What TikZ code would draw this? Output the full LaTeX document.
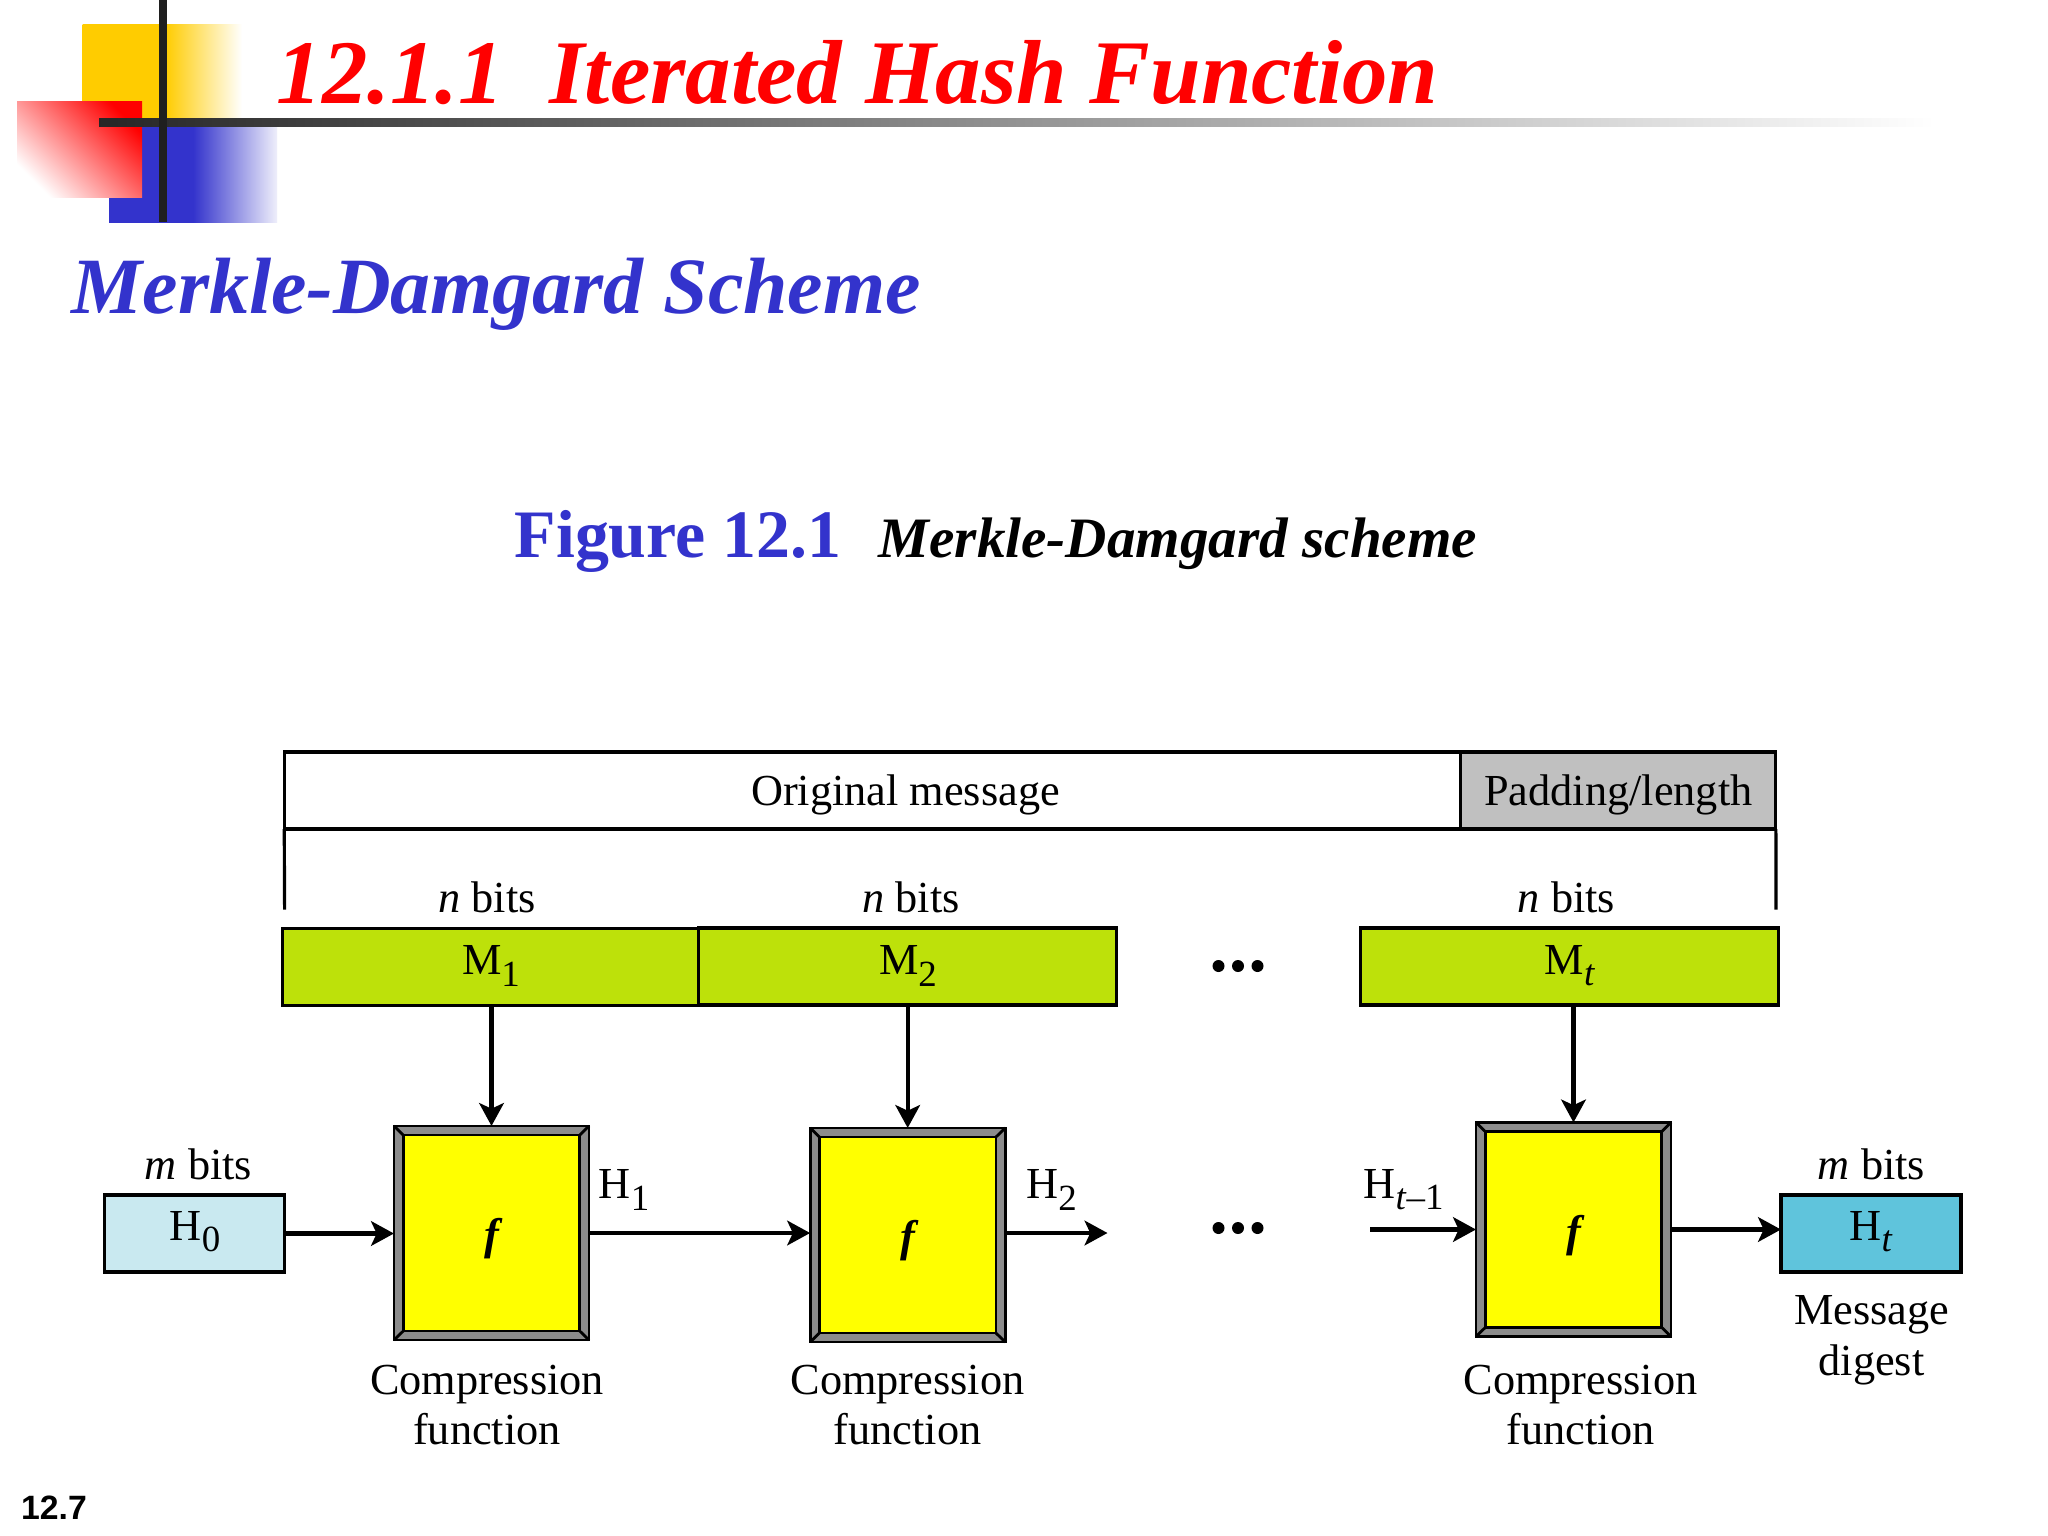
\documentclass[tikz,border=0pt]{standalone}
\usepackage{fontspec}
\setmainfont{Liberation Serif}
\newfontfamily\numfont{Liberation Sans}
\usetikzlibrary{arrows.meta}
\def\lowsub#1{\raisebox{-0.55ex}{\fontsize{10.5}{12}\selectfont #1}}
\definecolor{titlered}{HTML}{FF0000}
\definecolor{slideblue}{HTML}{3333CC}
\definecolor{slideyellow}{HTML}{FFCC00}
\definecolor{blockgreen}{HTML}{BDE10A}
\definecolor{padgray}{HTML}{C0C0C0}
\definecolor{framegray}{HTML}{8C8C8C}
\definecolor{coreyellow}{HTML}{FFFF00}
\definecolor{startblue}{HTML}{C9E9F0}
\definecolor{endblue}{HTML}{5FC4DC}
\pgfdeclarehorizontalshading{yellowfade}{100bp}{color(0bp)=(slideyellow); color(51bp)=(slideyellow); color(75bp)=(white); color(100bp)=(white)}
\pgfdeclarehorizontalshading{bluefade}{100bp}{color(0bp)=(slideblue); color(50bp)=(slideblue); color(75bp)=(slideblue!8); color(100bp)=(slideblue!8)}
\tikzset{
	plainbox/.style={draw=black, line width=0.9pt, inner sep=0pt, outer sep=0pt, minimum height=7.7mm},
	block/.style={plainbox, fill=blockgreen, minimum width=41.7mm},
	hashbox/.style={plainbox, minimum width=18mm},
	frame/.style={draw=black, line width=0.8pt, fill=framegray, inner sep=0pt, outer sep=0pt, minimum width=19.5mm, minimum height=21.4mm},
	core/.style={draw=black, line width=0.8pt, fill=coreyellow, inner sep=0pt, outer sep=0pt, minimum width=17.65mm, minimum height=19.6mm},
	txt/.style={font=\fontsize{12.6}{15}\selectfont, align=center, inner sep=0pt},
	flow/.style={line width=1.2pt, -{Stealth[length=6.5pt, width=7pt, inset=1.6pt]}}
}
% one compression box: frame, yellow core and mitred corners
\def\compbox(#1)(#2,#3){
	\node[frame] (#1) at (#2, #3) {};
	\node[core] (#1in) at (#2, #3) {};
	\foreach \corner in {north west, north east, south west, south east}
		\draw[line width=0.8pt] (#1.\corner) -- (#1in.\corner);
	\node[txt, font=\fontsize{12.6}{15}\selectfont\bfseries\itshape] (#1txt) at ([yshift=-1.7pt]#1in) {f};
}

\begin{document}
\begin{tikzpicture}[x=0.01cm, y=-0.01cm]
		%%%%% START %%%%%
		\useasboundingbox[fill=white] (0, 0) rectangle (2048, 1536);
		
		% slide decoration
		\shade[shading=yellowfade] (82.5, 24) rectangle (242, 124);
		\shade[shading=bluefade] (109, 124) rectangle (277, 222);
		\shade[top color=red, middle color=red!58, bottom color=white, shading angle=-45] (17, 101) rectangle (142, 197);
		\shade[left color=black!85, middle color=black!60, right color=white] (99, 118) rectangle (1935, 126);
		\fill[black!88] (159, 0) rectangle (167, 222);
		
		% headings
		\node[anchor=base west, inner sep=0pt, text=titlered, font=\fontsize{25.85}{30}\selectfont\bfseries\itshape] (title) at (276, 103) {12.1.1\ \ Iterated Hash Function};
		\node[anchor=base west, inner sep=0pt, text=slideblue, font=\fontsize{22.7}{26}\selectfont\bfseries\itshape] (sub) at (71, 313) {Merkle-Damgard Scheme};
		\node[anchor=base west, inner sep=0pt, text=slideblue, font=\fontsize{19.3}{24}\selectfont\bfseries] (figno) at (514, 557) {Figure 12.1};
		\node[anchor=base west, inner sep=0pt, font=\fontsize{16.25}{20}\selectfont\bfseries\itshape] (figname) at (878, 557) {Merkle-Damgard scheme};
		
		% message bar
		\node[plainbox, minimum width=117.6mm] (orig) at (872.6, 790.5) {};
		\node[plainbox, fill=padgray, minimum width=31.5mm] (pad) at (1618.3, 790.5) {};
		\node[txt] (origtxt) at (905.5, 795) {Original message};
		\node[txt] (padtxt) at (1618.3, 795) {Padding/length};
		\coordinate (tickl) at (284.6, 909.5);
		\coordinate (tickr) at (1776, 909.5);
		\draw[line width=0.9pt] (orig.south west) -- (tickl);
		\draw[line width=0.9pt] (pad.south east) -- (tickr);
		
		% message blocks
		\node[block] (m1) at (491.5, 967) {};
		\node[block] (m2) at (907.5, 966.5) {};
		\node[block] (mt) at (1569.5, 966.5) {};
		\node[txt] at (491, 966) {M\lowsub{1}};
		\node[txt] at (908, 966) {M\lowsub{2}};
		\node[txt] at (1570, 966) {M\lowsub{\textit{t}}};
		\node[txt] (n1) at (487, 897.5) {\textit{n} bits};
		\node[txt] (n2) at (911, 897.5) {\textit{n} bits};
		\node[txt] (n3) at (1566.5, 897.5) {\textit{n} bits};
		
		% compression functions
		\compbox(f1)(491.5, 1233)
		\compbox(f2)(907.7, 1235)
		\compbox(f3)(1573.5, 1229.5)
		\node[txt] (c1) at (487, 1405) {Compression\\[-0.6pt]function};
		\node[txt] (c2) at (907.5, 1405) {Compression\\[-0.6pt]function};
		\node[txt] (c3) at (1580.5, 1405) {Compression\\[-0.6pt]function};
		
		% chaining values
		\node[hashbox, fill=startblue] (h0) at (194.6, 1233.5) {};
		\node[hashbox, fill=endblue] (ht) at (1871, 1233.5) {};
		\node[txt] at (195, 1232) {H\lowsub{0}};
		\node[txt] at (1871, 1232) {H\lowsub{\textit{t}}};
		\node[txt] (m0) at (198.5, 1164.5) {\textit{m} bits};
		\node[txt] (mlast) at (1871.5, 1164.5) {\textit{m} bits};
		\node[txt] (digest) at (1871.5, 1340) {Message\\[-0.6pt]digest};
		\node[txt] (h1) at (624, 1190) {H\lowsub{1}};
		\node[txt] (h2) at (1051.5, 1190) {H\lowsub{2}};
		\node[txt] (hprev) at (1403.5, 1190) {H\lowsub{\textit{t}--1}};
		
		\coordinate (outtwo) at (1107.5, 1233);
		\coordinate (inlast) at (1370, 1229.5);
		\draw[flow] (m1.south -| f1.north) -- (f1.north);
		\draw[flow] (m2.south -| f2.north) -- (f2.north);
		\draw[flow] (mt.south -| f3.north) -- (f3.north);
		\draw[flow] (h0.east) -- (h0.east -| f1.west);
		\draw[flow] (f1.east) -- (f1.east -| f2.west);
		\draw[flow] (f2.east |- outtwo) -- (outtwo);
		\draw[flow] (inlast) -- (f3.west);
		\draw[flow] (f3.east) -- (f3.east -| ht.west);
		
		% dots between the stages
		\foreach \dotx in {1218.5, 1238, 1257.5} {
			\fill (\dotx, 966) circle (6);
			\fill (\dotx, 1228) circle (6);
		}
		
		\node[inner sep=0pt, font=\fontsize{9.6}{12}\selectfont\numfont\bfseries] (pageno) at (54, 1508) {12.7};
		%%%%% END %%%%%
\end{tikzpicture}
\end{document}
